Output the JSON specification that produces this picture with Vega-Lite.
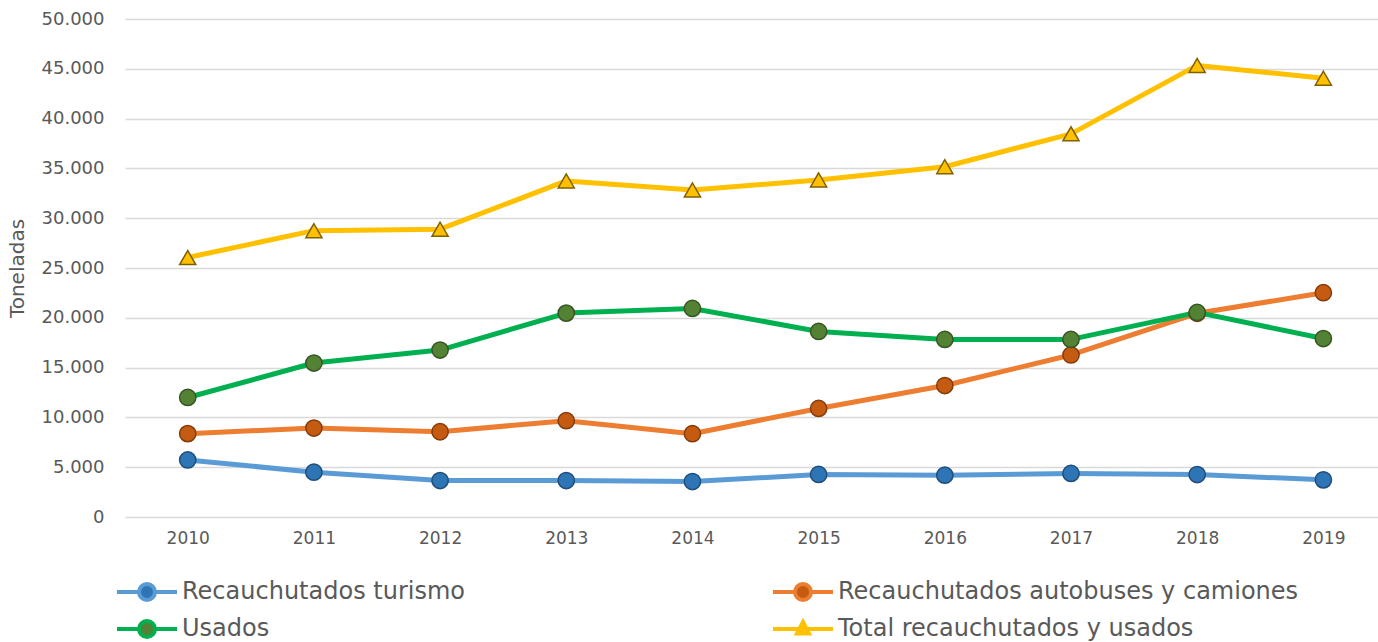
{
  "$schema": "https://vega.github.io/schema/vega-lite/v6.json",
  "width": 1253,
  "height": 498,
  "autosize": {"type": "none"},
  "padding": {"left": 125, "top": 19, "right": 0, "bottom": 125},
  "background": "white",
  "config": {
    "view": {"stroke": null},
    "font": "DejaVu Sans"
  },
  "data": {
    "values": [
      {"year": 2010, "series": "Recauchutados turismo", "value": 5730},
      {"year": 2011, "series": "Recauchutados turismo", "value": 4500},
      {"year": 2012, "series": "Recauchutados turismo", "value": 3660},
      {"year": 2013, "series": "Recauchutados turismo", "value": 3660},
      {"year": 2014, "series": "Recauchutados turismo", "value": 3560},
      {"year": 2015, "series": "Recauchutados turismo", "value": 4270},
      {"year": 2016, "series": "Recauchutados turismo", "value": 4200},
      {"year": 2017, "series": "Recauchutados turismo", "value": 4370},
      {"year": 2018, "series": "Recauchutados turismo", "value": 4260},
      {"year": 2019, "series": "Recauchutados turismo", "value": 3730},
      {"year": 2010, "series": "Recauchutados autobuses y camiones", "value": 8370},
      {"year": 2011, "series": "Recauchutados autobuses y camiones", "value": 8930},
      {"year": 2012, "series": "Recauchutados autobuses y camiones", "value": 8560},
      {"year": 2013, "series": "Recauchutados autobuses y camiones", "value": 9670},
      {"year": 2014, "series": "Recauchutados autobuses y camiones", "value": 8360},
      {"year": 2015, "series": "Recauchutados autobuses y camiones", "value": 10900},
      {"year": 2016, "series": "Recauchutados autobuses y camiones", "value": 13200},
      {"year": 2017, "series": "Recauchutados autobuses y camiones", "value": 16270},
      {"year": 2018, "series": "Recauchutados autobuses y camiones", "value": 20450},
      {"year": 2019, "series": "Recauchutados autobuses y camiones", "value": 22520},
      {"year": 2010, "series": "Usados", "value": 12000},
      {"year": 2011, "series": "Usados", "value": 15460},
      {"year": 2012, "series": "Usados", "value": 16760},
      {"year": 2013, "series": "Usados", "value": 20470},
      {"year": 2014, "series": "Usados", "value": 20940},
      {"year": 2015, "series": "Usados", "value": 18630},
      {"year": 2016, "series": "Usados", "value": 17830},
      {"year": 2017, "series": "Usados", "value": 17830},
      {"year": 2018, "series": "Usados", "value": 20540},
      {"year": 2019, "series": "Usados", "value": 17920},
      {"year": 2010, "series": "Total recauchutados y usados", "value": 26050},
      {"year": 2011, "series": "Total recauchutados y usados", "value": 28750},
      {"year": 2012, "series": "Total recauchutados y usados", "value": 28900},
      {"year": 2013, "series": "Total recauchutados y usados", "value": 33740},
      {"year": 2014, "series": "Total recauchutados y usados", "value": 32840},
      {"year": 2015, "series": "Total recauchutados y usados", "value": 33840},
      {"year": 2016, "series": "Total recauchutados y usados", "value": 35170},
      {"year": 2017, "series": "Total recauchutados y usados", "value": 38470},
      {"year": 2018, "series": "Total recauchutados y usados", "value": 45340},
      {"year": 2019, "series": "Total recauchutados y usados", "value": 44060}
    ]
  },
  "encoding": {
    "x": {
      "field": "year",
      "type": "quantitative",
      "scale": {"domain": [2009.503, 2019.433], "nice": false, "zero": false},
      "axis": {
        "title": null,
        "values": [2010, 2011, 2012, 2013, 2014, 2015, 2016, 2017, 2018, 2019],
        "format": "d",
        "grid": false,
        "domain": false,
        "ticks": false,
        "labelFont": "DejaVu Sans",
        "labelFontSize": 17,
        "labelColor": "#595959",
        "labelPadding": 13,
        "labelFlush": false
      }
    },
    "y": {
      "field": "value",
      "type": "quantitative",
      "scale": {"domain": [0, 50000], "nice": false},
      "axis": {
        "title": "Toneladas",
        "values": [0, 5000, 10000, 15000, 20000, 25000, 30000, 35000, 40000, 45000, 50000],
        "labelExpr": "replace(format(datum.value, ','), ',', '.')",
        "grid": true,
        "gridColor": "#d9d9d9",
        "gridWidth": 1.5,
        "domain": false,
        "ticks": false,
        "labelFont": "DejaVu Sans",
        "labelFontSize": 18,
        "labelColor": "#595959",
        "labelPadding": 21,
        "titleFont": "DejaVu Sans",
        "titleFontSize": 20,
        "titleFontWeight": "normal",
        "titleColor": "#595959",
        "titlePadding": 14
      }
    }
  },
  "layer": [
    {
      "mark": {"type": "line", "strokeWidth": 5, "strokeCap": "round", "strokeJoin": "round"},
      "encoding": {
        "color": {
          "field": "series",
          "type": "nominal",
          "scale": {
            "domain": ["Recauchutados turismo", "Recauchutados autobuses y camiones", "Usados", "Total recauchutados y usados"],
            "range": ["#5B9BD5", "#ED7D31", "#00B050", "#FFC000"]
          },
          "legend": {
            "title": null,
            "orient": "none",
            "legendX": -10,
            "legendY": 561,
            "direction": "horizontal",
            "columns": 2,
            "columnPadding": 300,
            "rowPadding": 5,
            "padding": 0,
            "labelFont": "DejaVu Sans",
            "labelFontSize": 24,
            "labelColor": "#595959",
            "labelLimit": 700,
            "labelOffset": 43,
            "symbolType": "M-1,0L1.2,0M2.8,0L5,0M2.8,0A0.8,0.8,0,1,1,1.2,0A0.8,0.8,0,1,1,2.8,0Z",
            "symbolSize": 400,
            "symbolStrokeWidth": 4,
            "symbolOpacity": 1,
            "encode": {
              "symbols": {
                "update": {
                  "shape": {"signal": "datum.value === 'Total recauchutados y usados' ? 'M-1,0L1.5,0M2.5,0L5,0M2,-0.7L2.6,0.45L1.4,0.45Z' : 'M-1,0L1.2,0M2.8,0L5,0M2.8,0A0.8,0.8,0,1,1,1.2,0A0.8,0.8,0,1,1,2.8,0Z'"},
                  "fill": {"scale": "fill", "field": "value"},
                  "stroke": {"scale": "color", "field": "value"},
                  "strokeWidth": {"value": 4},
                  "opacity": {"value": 1},
                  "fillOpacity": {"value": 1}
                }
              }
            }
          }
        }
      }
    },
    {
      "transform": [{"filter": "datum.series !== 'Total recauchutados y usados'"}],
      "mark": {"type": "point", "shape": "circle", "filled": true, "size": 265, "strokeWidth": 1.5, "opacity": 1},
      "encoding": {
        "fill": {
          "field": "series",
          "type": "nominal",
          "scale": {
            "domain": ["Recauchutados turismo", "Recauchutados autobuses y camiones", "Usados", "Total recauchutados y usados"],
            "range": ["#2E75B6", "#C55A11", "#548235", "#FFC000"]
          },
          "legend": null
        },
        "stroke": {
          "field": "series",
          "type": "nominal",
          "scale": {
            "domain": ["Recauchutados turismo", "Recauchutados autobuses y camiones", "Usados", "Total recauchutados y usados"],
            "range": ["#1F4E79", "#843C0C", "#375623", "#7F6000"]
          },
          "legend": null
        }
      }
    },
    {
      "transform": [{"filter": "datum.series === 'Total recauchutados y usados'"}],
      "mark": {"type": "point", "shape": "triangle-up", "filled": true, "size": 260, "strokeWidth": 1.5, "opacity": 1},
      "encoding": {
        "fill": {
          "field": "series",
          "type": "nominal",
          "scale": {
            "domain": ["Recauchutados turismo", "Recauchutados autobuses y camiones", "Usados", "Total recauchutados y usados"],
            "range": ["#2E75B6", "#C55A11", "#548235", "#FFC000"]
          },
          "legend": null
        },
        "stroke": {
          "field": "series",
          "type": "nominal",
          "scale": {
            "domain": ["Recauchutados turismo", "Recauchutados autobuses y camiones", "Usados", "Total recauchutados y usados"],
            "range": ["#1F4E79", "#843C0C", "#375623", "#7F6000"]
          },
          "legend": null
        }
      }
    }
  ]
}
